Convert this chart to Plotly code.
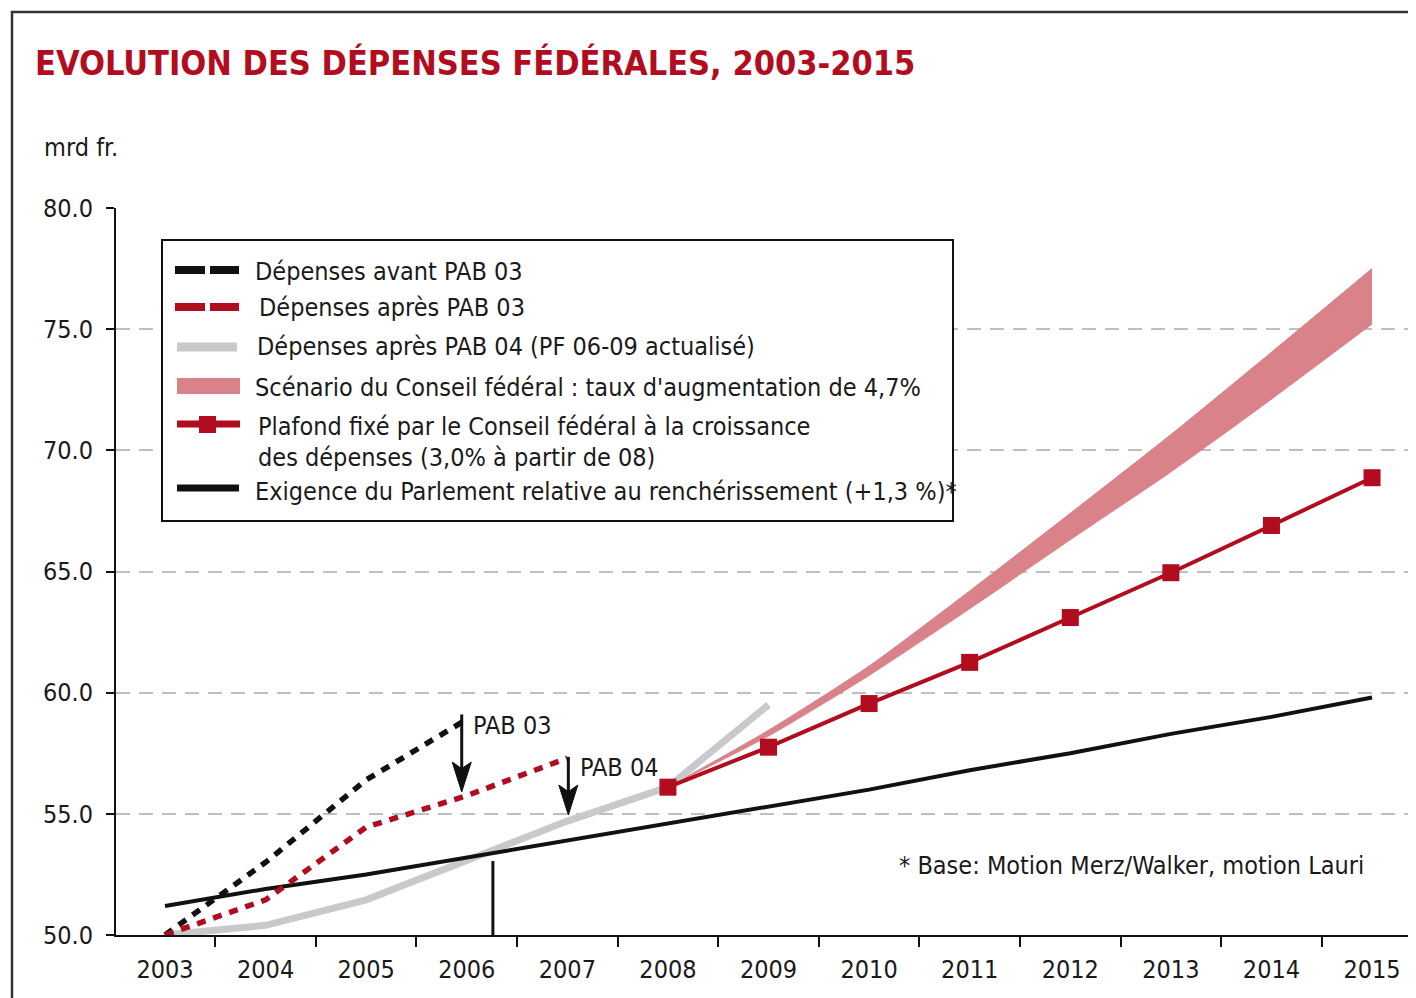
import plotly.graph_objects as go

# ---------------- data ----------------
years_all = [2003, 2004, 2005, 2006, 2007, 2008, 2009, 2010, 2011, 2012, 2013, 2014, 2015]

avant_years = [2003, 2004, 2005, 2006]
avant_vals = [50.0, 53.0, 56.4, 58.9]

apres03_years = [2003, 2004, 2005, 2006, 2007]
apres03_vals = [50.0, 51.45, 54.45, 55.75, 57.3]

apres04_years = [2003, 2004, 2005, 2006, 2007, 2008, 2009]
apres04_vals = [50.0, 50.4, 51.45, 53.1, 54.7, 56.1, 59.5]

scen_years = [2008, 2009, 2010, 2011, 2012, 2013, 2014, 2015]
scen_low = [56.1, 58.2, 60.7, 63.45, 66.3, 69.1, 72.1, 75.2]
scen_high = [56.1, 58.45, 61.1, 64.2, 67.4, 70.65, 74.05, 77.5]

plafond_years = [2008, 2009, 2010, 2011, 2012, 2013, 2014, 2015]
plafond_vals = [56.1, 57.75, 59.55, 61.25, 63.1, 64.95, 66.9, 68.87]

parl_years = years_all
parl_vals = [51.2, 51.9, 52.5, 53.2, 53.9, 54.6, 55.3, 56.0, 56.8, 57.5, 58.3, 59.0, 59.8]

cross_year = [2006.26, 2006.26]
cross_vals = [50.0, 53.05]

y_ticks = [50, 55, 60, 65, 70, 75, 80]
y_tick_labels = ["50.0", "55.0", "60.0", "65.0", "70.0", "75.0", "80.0"]
x_tick_labels = [str(y) for y in years_all]

legend_labels = [
    "Dépenses avant PAB 03",
    "Dépenses après PAB 03",
    "Dépenses après PAB 04 (PF 06-09 actualisé)",
    "Scénario du Conseil fédéral : taux d'augmentation de 4,7%",
    "Plafond fixé par le Conseil fédéral à la croissance",
    "des dépenses (3,0% à partir de 08)",
    "Exigence du Parlement relative au renchérissement (+1,3 %)*",
]

# ---------------- style ----------------
FONT = "Liberation Sans Narrow, DejaVu Sans Condensed, Arial Narrow, Open Sans, sans-serif"
RED = "#b20c1f"
PINK = "#d9828a"
GREY = "#c7c9cc"
BLACK = "#111111"
TXT = "#1a1a1a"

OFF = 8  # page body margin
W, H = 1408, 990
L, R, T, B = 108, 0, 200, 63
PW, PH = W - L - R, H - T - B
X_RANGE = [2002.513, 2015.437]
Y_RANGE = [50, 80]
PX_PER_X = PW / (X_RANGE[1] - X_RANGE[0])
PX_PER_Y = PH / (Y_RANGE[1] - Y_RANGE[0])


def px(x):  # screen pixel -> paper
    return (x - OFF - L) / PW


def py(y):
    return (H - B - (y - OFF)) / PH


fig = go.Figure()

# band
fig.add_trace(go.Scatter(x=scen_years, y=scen_low, mode="lines",
                         line=dict(width=0.5, color=PINK, shape="spline", smoothing=0.6),
                         showlegend=False, hoverinfo="skip"))
fig.add_trace(go.Scatter(x=scen_years, y=scen_high, mode="lines",
                         line=dict(width=1, color=PINK, shape="spline", smoothing=0.6),
                         fill="tonexty", fillcolor=PINK, showlegend=False))

fig.add_trace(go.Scatter(x=apres04_years, y=apres04_vals, mode="lines",
                         line=dict(color=GREY, width=7), showlegend=False))
fig.add_trace(go.Scatter(x=parl_years, y=parl_vals, mode="lines",
                         line=dict(color=BLACK, width=4), showlegend=False))
fig.add_trace(go.Scatter(x=avant_years, y=avant_vals, mode="lines",
                         line=dict(color=BLACK, width=5.5, dash="9px,8px"), showlegend=False))
fig.add_trace(go.Scatter(x=apres03_years, y=apres03_vals, mode="lines",
                         line=dict(color=RED, width=5.5, dash="9px,8px"), showlegend=False))
fig.add_trace(go.Scatter(x=plafond_years, y=plafond_vals, mode="lines+markers",
                         line=dict(color=RED, width=4),
                         marker=dict(symbol="square", size=17, color=RED), showlegend=False))
fig.add_trace(go.Scatter(x=cross_year, y=cross_vals, mode="lines",
                         line=dict(color=BLACK, width=3), showlegend=False))

shapes = []
annotations = []

# outer frame
shapes.append(dict(type="rect", xref="paper", yref="paper", x0=px(12), x1=px(1440), y0=py(1020), y1=py(12),
                   line=dict(color="#333333", width=2.5)))

# legend box
shapes.append(dict(type="rect", xref="paper", yref="paper", x0=px(162), x1=px(953), y0=py(521), y1=py(240),
                   line=dict(color=BLACK, width=2), fillcolor="white", layer="above"))


def lseg(x0, x1, y, color, width):
    shapes.append(dict(type="line", xref="paper", yref="paper", x0=px(x0), x1=px(x1), y0=py(y), y1=py(y),
                       line=dict(color=color, width=width), layer="above"))


lseg(175, 205, 270, BLACK, 8)
lseg(210, 239, 270, BLACK, 8)
lseg(175, 205, 307, RED, 8)
lseg(210, 239, 307, RED, 8)
lseg(177, 237, 347, GREY, 9)
lseg(177, 240, 386, PINK, 16)
lseg(177, 240, 424, RED, 7)
shapes.append(dict(type="rect", xref="paper", yref="paper", x0=px(199), x1=px(216), y0=py(433), y1=py(416),
                   line=dict(color=RED, width=0), fillcolor=RED, layer="above"))
lseg(177, 239, 488, BLACK, 7)

leg_pos = [(253, 271), (257, 307), (255, 346), (253, 387), (256, 426), (256, 457), (253, 491)]
for txt, (x, y) in zip(legend_labels, leg_pos):
    annotations.append(dict(text=txt, xref="paper", yref="paper", x=px(x), y=py(y), xanchor="left",
                            yanchor="middle", showarrow=False, font=dict(family=FONT, size=25, color=TXT)))

# title and unit
annotations.append(dict(text="<b>EVOLUTION DES DÉPENSES FÉDÉRALES, 2003-2015</b>", xref="paper", yref="paper",
                        x=px(33), y=py(63), xanchor="left", yanchor="middle", showarrow=False,
                        font=dict(family=FONT, size=34, color=RED)))
annotations.append(dict(text="mrd fr.", xref="paper", yref="paper", x=px(42), y=py(147), xanchor="left",
                        yanchor="middle", showarrow=False, font=dict(family=FONT, size=25, color=TXT)))

# footnote
annotations.append(dict(text="* Base: Motion Merz/Walker, motion Lauri", xref="paper", yref="paper",
                        x=px(897), y=py(865), xanchor="left", yanchor="middle", showarrow=False,
                        font=dict(family=FONT, size=25, color=TXT)))


# PAB arrows (shaft + narrow head), sized in pixels, placed on the data
def arrow(x, y_top, y_tip, head_len=30, head_w=19, width=3):
    hl = head_len / PX_PER_Y
    hw = head_w / 2 / PX_PER_X
    shapes.append(dict(type="line", xref="x", yref="y", x0=x, x1=x, y0=y_top, y1=y_tip + hl * 0.7,
                       line=dict(color=BLACK, width=width), layer="above"))
    path = (f"M {x},{y_tip} L {x - hw},{y_tip + hl} L {x},{y_tip + hl * 0.78} "
            f"L {x + hw},{y_tip + hl} Z")
    shapes.append(dict(type="path", xref="x", yref="y", path=path, fillcolor=BLACK,
                       line=dict(color=BLACK, width=1), layer="above"))


arrow(avant_years[-1] - 0.05, avant_vals[-1] + 0.2, apres03_vals[3] + 0.15)
arrow(apres03_years[-1] + 0.01, apres03_vals[-1] + 0.05, apres04_vals[4] + 0.25)

annotations.append(dict(text="PAB 03", x=px(471), y=py(725), xref="paper", yref="paper", xanchor="left",
                        yanchor="middle", showarrow=False, font=dict(family=FONT, size=25, color=TXT)))
annotations.append(dict(text="PAB 04", x=px(578), y=py(767), xref="paper", yref="paper", xanchor="left",
                        yanchor="middle", showarrow=False, font=dict(family=FONT, size=25, color=TXT)))

fig.update_layout(
    width=W, height=H,
    margin=dict(l=L, r=R, t=T, b=B),
    paper_bgcolor="white", plot_bgcolor="white",
    showlegend=False,
    shapes=shapes, annotations=annotations,
    font=dict(family=FONT, color=TXT),
)

fig.update_xaxes(
    range=X_RANGE, tickmode="array", tickvals=years_all, ticktext=x_tick_labels,
    ticks="", showgrid=False, zeroline=False, showline=True, linecolor=BLACK, linewidth=2,
    tickfont=dict(family=FONT, size=25, color=TXT), ticklabelstandoff=11,
    minor=dict(tickmode="linear", tick0=2002.5, dtick=1, ticks="outside", ticklen=10, tickwidth=2,
               tickcolor=BLACK, showgrid=False),
)
fig.update_yaxes(
    range=Y_RANGE, tickmode="array", tickvals=y_ticks, ticktext=y_tick_labels,
    ticks="outside", ticklen=8, tickwidth=2, tickcolor=BLACK,
    showgrid=True, gridcolor="#bcc0c4", griddash="14px,9px", gridwidth=2,
    zeroline=False, showline=True, linecolor=BLACK, linewidth=2,
    tickfont=dict(family=FONT, size=25, color=TXT), ticklabelstandoff=8,
)

fig.write_html("out.html")
